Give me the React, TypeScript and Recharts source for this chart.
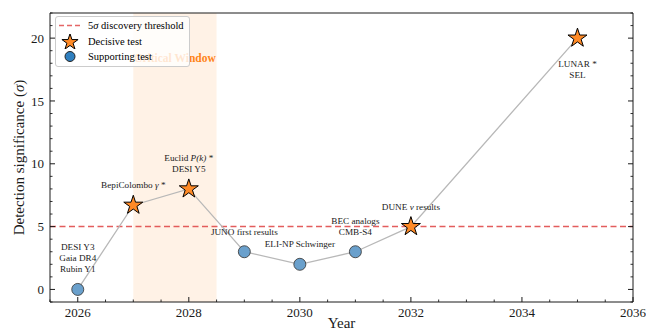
import React from "react";
import {
    ComposedChart,
    Line,
    Scatter,
    XAxis,
    YAxis,
    ReferenceLine,
    ReferenceArea,
    Legend
} from "recharts";

// values
const years = [2026, 2027, 2028, 2029, 2030, 2031, 2032, 2035];
const sigmas = [0, 6.7, 8, 3, 2, 3, 5, 20];
const kinds = ["supporting", "decisive", "decisive", "supporting", "supporting", "supporting", "decisive", "decisive"];
const labels = [
    ["DESI Y3", "Gaia DR4", "Rubin Y1"],
    ["BepiColombo $γ$ *"],
    ["Euclid $P(k)$ *", "DESI Y5"],
    ["JUNO first results"],
    ["ELI-NP Schwinger"],
    ["BEC analogs", "CMB-S4"],
    ["DUNE $ν$ results"],
    ["LUNAR *", "SEL"]
];

const threshold = 5;
const windowStart = 2027;
const windowEnd = 2028.5;
const windowTitle = "Critical Window";

const xDomain = [2025.5, 2036];
const yDomain = [-1, 22];
const xMajorTicks = [2026, 2028, 2030, 2032, 2034, 2036];
const xMinorTicks = [2025.5, 2026, 2026.5, 2027, 2027.5, 2028, 2028.5, 2029, 2029.5, 2030, 2030.5, 2031, 2031.5, 2032, 2032.5, 2033, 2033.5, 2034, 2034.5, 2035, 2035.5, 2036];
const yMajorTicks = [0, 5, 10, 15, 20];
const yMinorTicks = [-1, 0, 1, 2, 3, 4, 5, 6, 7, 8, 9, 10, 11, 12, 13, 14, 15, 16, 17, 18, 19, 20, 21, 22];

const points = years.map((year, i) => ({ year, sigma: sigmas[i], kind: kinds[i], label: labels[i] }));
const decisive = points.filter(p => p.kind === "decisive");
const supporting = points.filter(p => p.kind === "supporting");

const font = '"Liberation Serif", "Times New Roman", Times, serif';
const ink = "#1a1a1a";
const orange = "#ff8a26";
const blue = "#6aa0cc";

function starPath(cx: number, cy: number, r: number) {
    const pts: string[] = [];
    for (let k = 0; k < 10; k++) {
        const rad = k % 2 === 0 ? r : r * 0.382;
        const a = -Math.PI / 2 + (k * Math.PI) / 5;
        pts.push(`${cx + rad * Math.cos(a)},${cy + rad * Math.sin(a)}`);
    }
    return pts.join(" ");
}

function StarMark(props: any) {
    const { cx, cy } = props;
    if (cx == null || cy == null) return null;
    return <polygon points={starPath(cx, cy, 10)} fill={orange} stroke="#000" strokeWidth={1} strokeLinejoin="miter" />;
}

function CircleMark(props: any) {
    const { cx, cy } = props;
    if (cx == null || cy == null) return null;
    return <circle cx={cx} cy={cy} r={6} fill={blue} stroke="#3a3a3a" strokeWidth={1} strokeOpacity={0.85} />;
}

// "$...$" segments are set in italic, like matplotlib mathtext
function rich(s: string) {
    return s.split("$").map((part, i) =>
        i % 2 === 1 ? <tspan key={i} fontStyle="italic">{part}</tspan> : <tspan key={i}>{part}</tspan>
    );
}

function PointLabel(props: any) {
    const { cx, cy, payload } = props;
    if (cx == null || cy == null) return null;
    const lines: string[] = payload.label;
    const lh = 11;
    const below = payload.sigma > 15;
    const first = below ? cy + 29 : cy - 17 - (lines.length - 1) * lh;
    return (
        <text textAnchor="middle" fontFamily={font} fontSize={9.2} fill={ink}>
            {lines.map((l, i) => (
                <tspan key={i} x={cx} y={first + i * lh}>{rich(l)}</tspan>
            ))}
        </text>
    );
}

// one axis per side: every tick is drawn inward, majors are longer and the bottom/left ones carry a label
const makeTick = (side: "bottom" | "top" | "left" | "right", majors: number[]) => (props: any) => {
    const { x, y, payload } = props;
    const v = payload.value;
    const major = majors.includes(v);
    const len = major ? 5 : 2.5;
    let x2 = x, y2 = y;
    if (side === "bottom") y2 = y - len;
    if (side === "top") y2 = y + len;
    if (side === "left") x2 = x + len;
    if (side === "right") x2 = x - len;
    return (
        <g>
            <line x1={x} x2={x2} y1={y} y2={y2} stroke={ink} strokeWidth={major ? 1 : 0.9} />
            {major && side === "bottom" && (
                <text x={x} y={y + 15} textAnchor="middle" fontFamily={font} fontSize={13} fill={ink}>{v}</text>
            )}
            {major && side === "left" && (
                <text x={x - 6} y={y} dy="0.35em" textAnchor="end" fontFamily={font} fontSize={13} fill={ink}>{v}</text>
            )}
        </g>
    );
};

function LegendBox() {
    const row = { display: "flex", alignItems: "center", height: 15.5 } as React.CSSProperties;
    return (
        <div style={{
            background: "rgba(255,255,255,0.8)",
            border: "1px solid #cccccc",
            borderRadius: 3,
            padding: "1px 5px 1px 2px",
            fontFamily: font,
            fontSize: 10.5,
            color: "#000",
            whiteSpace: "nowrap"
        }}>
            <div style={row}>
                <svg width={30} height={15}>
                    <line x1={1} x2={23} y1={7.5} y2={7.5} stroke="#e04b4b" strokeWidth={1.5} strokeDasharray="5 3" strokeOpacity={0.85} />
                </svg>
                <span>5<i>σ</i> discovery threshold</span>
            </div>
            <div style={row}>
                <svg width={30} height={15}>
                    <polygon points={starPath(12, 8.2, 8.5)} fill={orange} stroke="#000" strokeWidth={1} />
                </svg>
                <span>Decisive test</span>
            </div>
            <div style={row}>
                <svg width={30} height={15}>
                    <circle cx={12} cy={7.5} r={5} fill="#2f7fbf" stroke="#222" strokeWidth={1} />
                </svg>
                <span>Supporting test</span>
            </div>
        </div>
    );
}

const common = { type: "number" as const, allowDataOverflow: true, interval: 0 as const, tickSize: 0, tickMargin: 0, tickLine: false };
const frame = { stroke: ink, strokeWidth: 1 };

export default function App() {
    return (
        <div style={{ width: 646, height: 335 }}>
            <style>{"body{margin:0}"}</style>
            <ComposedChart width={646} height={335} data={points} margin={{ top: 12, right: 12, bottom: 32, left: 49 }}>
                <XAxis
                    xAxisId="main" dataKey="year" domain={xDomain} ticks={xMinorTicks} height={1}
                    {...common} axisLine={frame} tick={makeTick("bottom", xMajorTicks)}
                    label={{
                        content: ({ viewBox }: any) => (
                            <text x={viewBox.x + viewBox.width / 2} y={viewBox.y + 26} textAnchor="middle" fontFamily={font} fontSize={15} fill={ink}>Year</text>
                        )
                    }}
                />
                <XAxis xAxisId="top" orientation="top" domain={xDomain} ticks={xMinorTicks} height={1} {...common} axisLine={frame} tick={makeTick("top", xMajorTicks)} />
                <YAxis
                    yAxisId="main" domain={yDomain} ticks={yMinorTicks} width={1}
                    {...common} axisLine={frame} tick={makeTick("left", yMajorTicks)}
                    label={{
                        content: ({ viewBox }: any) => {
                            const x = viewBox.x - 25;
                            const y = viewBox.y + viewBox.height / 2;
                            return (
                                <text x={x} y={y} transform={`rotate(-90 ${x} ${y})`} textAnchor="middle" fontFamily={font} fontSize={15} fill={ink}>
                                    Detection significance (<tspan fontStyle="italic">σ</tspan>)
                                </text>
                            );
                        }
                    }}
                />
                <YAxis yAxisId="right" orientation="right" domain={yDomain} ticks={yMinorTicks} width={1} {...common} axisLine={frame} tick={makeTick("right", yMajorTicks)} />

                <ReferenceArea
                    xAxisId="main" yAxisId="main" x1={windowStart} x2={windowEnd}
                    fill="#ff7f0e" fillOpacity={0.1} stroke="none"
                    label={{ value: windowTitle, position: "insideTop", offset: 41, fill: "#ff8418", fontSize: 11.5, fontWeight: "bold", fontFamily: font }}
                />
                <ReferenceLine xAxisId="main" yAxisId="main" y={threshold} stroke="#e04b4b" strokeOpacity={0.9} strokeWidth={1.5} strokeDasharray="6 3.5" />

                <Line xAxisId="main" yAxisId="main" type="linear" dataKey="sigma" stroke="#b8b8b8" strokeWidth={1.3} dot={false} activeDot={false} isAnimationActive={false} />
                <Scatter xAxisId="main" yAxisId="main" data={supporting} dataKey="sigma" shape={CircleMark} isAnimationActive={false} />
                <Scatter xAxisId="main" yAxisId="main" data={decisive} dataKey="sigma" shape={StarMark} isAnimationActive={false} />
                <Scatter xAxisId="main" yAxisId="main" data={points} dataKey="sigma" shape={PointLabel} isAnimationActive={false} />

                <Legend content={<LegendBox />} layout="vertical" align="center" verticalAlign="middle" wrapperStyle={{ top: 16, left: 55, width: "auto", height: "auto" }} />
            </ComposedChart>
        </div>
    );
}
